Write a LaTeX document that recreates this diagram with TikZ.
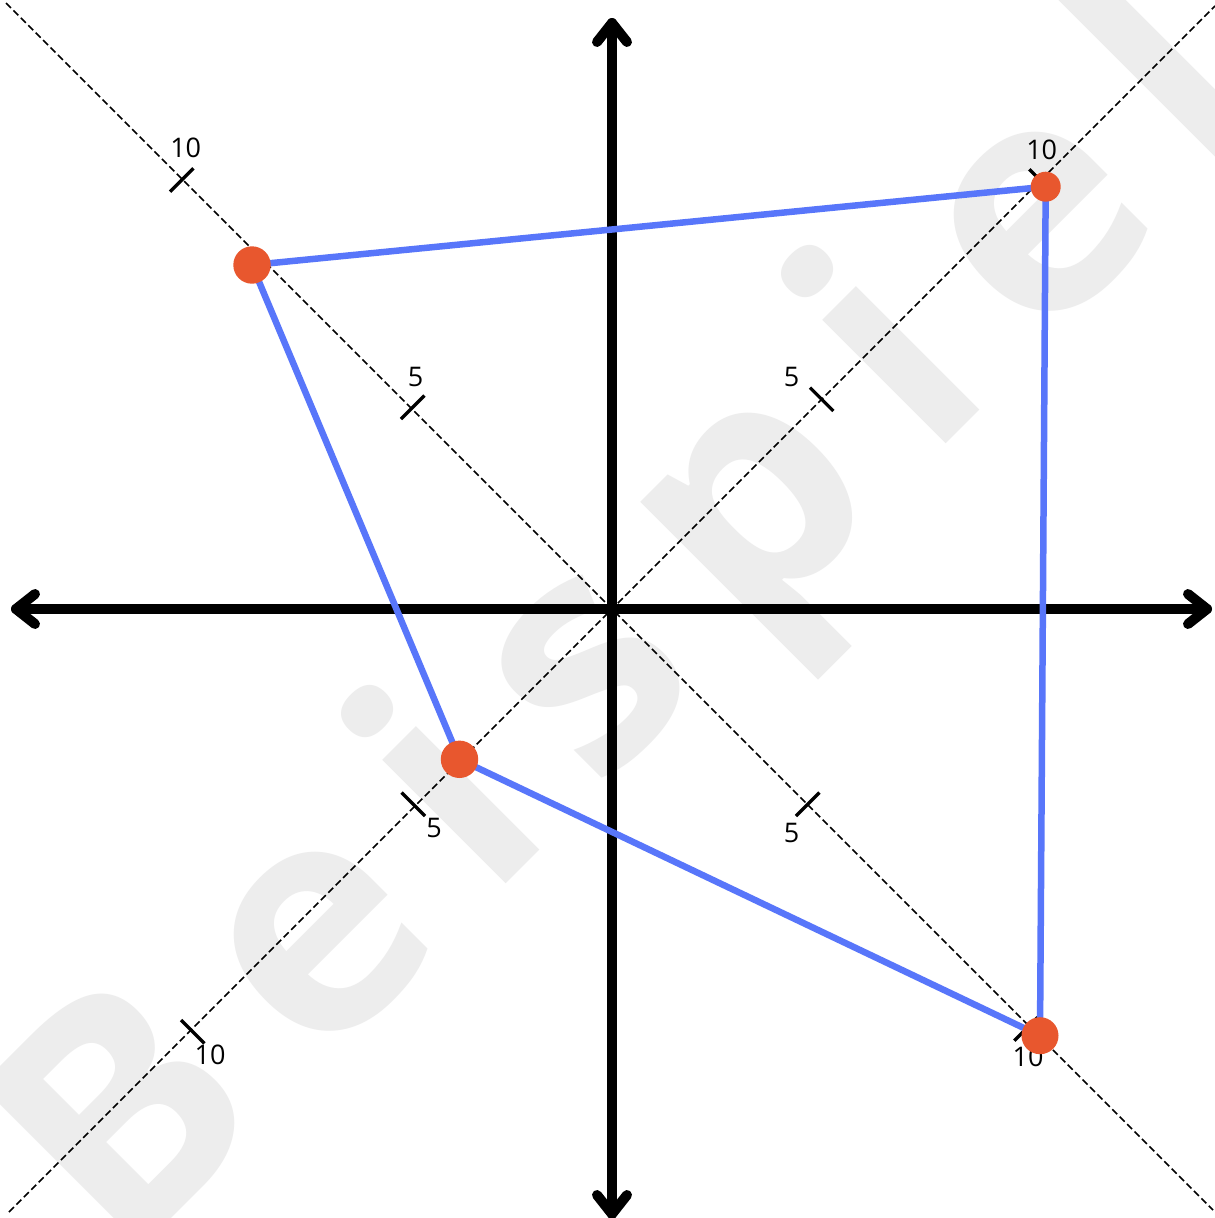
\documentclass[tikz,border=0pt]{standalone}
\usepackage{fontspec}
\setmainfont{Open Sans}
\definecolor{wmgray}{RGB}{237,237,237}
\definecolor{polyblue}{RGB}{88,118,250}
\definecolor{dotred}{RGB}{232,87,46}
\begin{document}
\begin{tikzpicture}[x=1pt,y=-1pt,
  wmletter/.style={text=wmgray, font=\fontsize{320}{320}\selectfont\bfseries, inner sep=0pt, outer sep=0pt, anchor=base, rotate=45},
  diagline/.style={line width=1.6pt, dash pattern=on 7pt off 3.5pt},
  tickmark/.style={line width=3.3pt},
  lbl/.style={font=\fontsize{27}{27}\selectfont, inner sep=0pt},
  axisline/.style={line width=10pt, line cap=round, line join=round},
  polyline/.style={line width=6.5pt, polyblue, line join=round},
  dotnode/.style={circle, fill=dotred, draw=none, inner sep=0pt}]
\useasboundingbox (0,0) rectangle (1215,1218);
\fill[white] (0,0) rectangle (1215,1218);
% watermark
\node[wmletter] (w1) at (198.6,1191.4) {B};
\node[wmletter] (w2) at (383.9,1006.1) {e};
\node[wmletter] (w3) at (522.7,867.3) {i};
\node[wmletter] (w4) at (652.6,737.4) {s};
\node[wmletter] (w5) at (818.0,572.0) {p};
\node[wmletter] (w6) at (962.6,427.4) {i};
\node[wmletter] (w7) at (1104.4,285.6) {e};
\node[wmletter] (w8) at (1240.9,149.1) {l};
% diagonal dashed lines
\coordinate (dnw) at (6,3);
\coordinate (dse) at (1213,1210);
\coordinate (dsw) at (9,1212);
\coordinate (dne) at (1215,6);
\draw[diagline] (dnw) -- (dse);
\draw[diagline] (dsw) -- (dne);
% ticks on NW-SE line
\draw[tickmark] (181.7,180) ++(-11.7,11.7) -- ++(23.4,-23.4);
\draw[tickmark] (412.7,407.3) ++(-11.7,11.7) -- ++(23.4,-23.4);
\draw[tickmark] (807.7,804.3) ++(-11.7,11.7) -- ++(23.4,-23.4);
\draw[tickmark] (1026,1029) ++(-11.7,11.7) -- ++(23.4,-23.4);
% ticks on SW-NE line
\draw[tickmark] (821.7,399.3) ++(-11.7,-11.7) -- ++(23.4,23.4);
\draw[tickmark] (1041,181) ++(-11.7,-11.7) -- ++(23.4,23.4);
\draw[tickmark] (413.3,804.3) ++(-11.7,-11.7) -- ++(23.4,23.4);
\draw[tickmark] (192.7,1031.7) ++(-11.7,-11.7) -- ++(23.4,23.4);
% tick labels
\node[lbl] (l1) at (185.7,148) {10};
\node[lbl] (l2) at (415.7,377) {5};
\node[lbl] (l3) at (791.7,376.7) {5};
\node[lbl] (l4) at (1041.7,150) {10};
\node[lbl] (l5) at (434,828) {5};
\node[lbl] (l6) at (210,1055) {10};
\node[lbl] (l7) at (791.7,833.3) {5};
\node[lbl] (l8) at (1028,1057) {10};
% axes
\coordinate (xl) at (16,609);
\coordinate (xr) at (1207,609);
\coordinate (yt) at (612,23);
\coordinate (yb) at (612,1214);
\draw[axisline] (xl) -- (xr);
\draw[axisline] (yt) -- (yb);
\draw[axisline] (35,594) -- (xl) -- (35,624);
\draw[axisline] (1188,594) -- (xr) -- (1188,624);
\draw[axisline] (597,42) -- (yt) -- (627,42);
\draw[axisline] (597,1195) -- (yb) -- (627,1195);
% polygon
\coordinate (P1) at (252,265);
\coordinate (P2) at (1045.7,186.7);
\coordinate (P3) at (1040,1035.7);
\coordinate (P4) at (459.5,759.3);
\draw[polyline] (P1) -- (P2) -- (P3) -- (P4) -- cycle;
\node[dotnode, minimum size=37.4pt] (d1) at (P1) {};
\node[dotnode, minimum size=30pt] (d2) at (P2) {};
\node[dotnode, minimum size=37pt] (d3) at (P3) {};
\node[dotnode, minimum size=37.4pt] (d4) at (P4) {};
\end{tikzpicture}
\end{document}
